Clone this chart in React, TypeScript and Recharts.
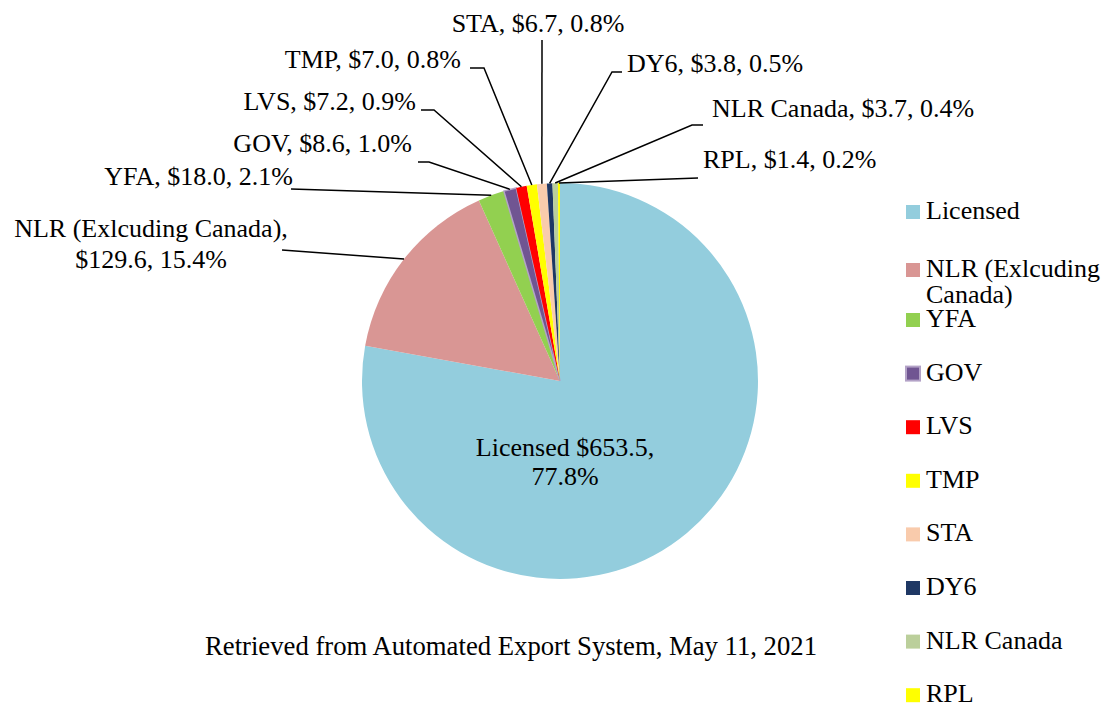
import { PieChart, Pie, Cell } from "recharts";

// chart values
const CATEGORIES = [
  "Licensed",
  "NLR (Exlcuding Canada)",
  "YFA",
  "GOV",
  "LVS",
  "TMP",
  "STA",
  "DY6",
  "NLR Canada",
  "RPL",
];
const VALUES = [653.5, 129.6, 18.0, 8.6, 7.2, 7.0, 6.7, 3.8, 3.7, 1.4];
const COLORS = [
  "#93cddd",
  "#d99694",
  "#92d050",
  "#705592",
  "#ff0000",
  "#ffff00",
  "#f9cbac",
  "#1f3864",
  "#bbcf9b",
  "#ffff00",
];
const FOOTNOTE = "Retrieved from Automated Export System, May 11, 2021";

const FONT = '"Liberation Serif", "Times New Roman", serif';
const FONT_SIZE = 26;
const TOTAL = VALUES.reduce((a, b) => a + b, 0);

const rows = CATEGORIES.map((name, i) => ({ name, value: VALUES[i] }));

// where each data label sits, and the elbow of its leader line
type LabelPos = {
  x: number;
  y: number[];
  anchor: "start" | "middle" | "end";
  split?: "inside" | "two";
  line?: number[][];
};
const LABEL_POS: LabelPos[] = [
  { x: 565, y: [456, 485], anchor: "middle", split: "inside" },
  { x: 151, y: [237, 268], anchor: "middle", split: "two", line: [[282, 250]] },
  { x: 293, y: [185], anchor: "end", line: [[291, 189]] },
  { x: 412, y: [152], anchor: "end", line: [[418, 162], [429, 162]] },
  { x: 416, y: [110], anchor: "end", line: [[421, 110], [434, 110]] },
  { x: 461, y: [68], anchor: "end", line: [[470, 68], [484, 68]] },
  { x: 538, y: [32], anchor: "middle", line: [[542, 40]] },
  { x: 627, y: [72], anchor: "start", line: [[622, 72], [612, 72]] },
  { x: 712, y: [117], anchor: "start", line: [[703, 125], [692, 125]] },
  { x: 703, y: [168], anchor: "start", line: [[698, 178]] },
];

const LEGEND_BASELINES = [219, 277, 327, 380.6, 434.2, 487.8, 541.4, 595, 648.6, 702.2];

const RADIAN = Math.PI / 180;

const renderLabel = (props: any) => {
  const { cx, cy, midAngle, outerRadius, index } = props;
  const pos = LABEL_POS[index];
  const name = CATEGORIES[index];
  const val = "$" + VALUES[index].toFixed(1);
  const pct = ((VALUES[index] / TOTAL) * 100).toFixed(1) + "%";

  let lines: string[];
  if (pos.split === "inside") lines = [`${name} ${val},`, pct];
  else if (pos.split === "two") lines = [`${name},`, `${val}, ${pct}`];
  else lines = [`${name}, ${val}, ${pct}`];

  const ex = cx + outerRadius * Math.cos(-midAngle * RADIAN);
  const ey = cy + outerRadius * Math.sin(-midAngle * RADIAN);

  return (
    <g key={`lbl-${index}`}>
      {pos.line && (
        <polyline
          points={[...pos.line, [ex, ey]].map((p) => p.join(",")).join(" ")}
          fill="none"
          stroke="#000"
          strokeWidth={1.5}
        />
      )}
      <text
        x={pos.x}
        fontFamily={FONT}
        fontSize={FONT_SIZE}
        fill="#000"
        textAnchor={pos.anchor}
      >
        {lines.map((t, j) => (
          <tspan key={j} x={pos.x} y={pos.y[j]}>
            {t}
          </tspan>
        ))}
      </text>
    </g>
  );
};

export default function App() {
  return (
    <div
      style={{
        position: "absolute",
        left: 0,
        top: 0,
        width: 1106,
        height: 707,
        background: "#fff",
      }}
    >
      <PieChart width={1106} height={707} margin={{ top: 0, right: 0, bottom: 0, left: 0 }}>
        <Pie
          data={rows}
          dataKey="value"
          nameKey="name"
          cx={560}
          cy={381}
          outerRadius={198}
          startAngle={90}
          endAngle={-270}
          label={renderLabel}
          labelLine={false}
          isAnimationActive={false}
        >
          {rows.map((r, i) => (
            <Cell
              key={r.name}
              fill={COLORS[i]}
              stroke={r.name === "GOV" ? "#b3a2c7" : "none"}
              strokeWidth={r.name === "GOV" ? 1.5 : 0}
            />
          ))}
        </Pie>
      </PieChart>

      {/* legend + source note */}
      <svg
        width={1106}
        height={707}
        style={{ position: "absolute", left: 0, top: 0, pointerEvents: "none" }}
      >
        {CATEGORIES.map((name, i) => {
          const base = LEGEND_BASELINES[i];
          const words = name === "NLR (Exlcuding Canada)" ? ["NLR (Exlcuding", "Canada)"] : [name];
          return (
            <g key={name}>
              <rect
                x={906}
                y={base - 14}
                width={14}
                height={14}
                fill={COLORS[i]}
                stroke={name === "GOV" ? "#b3a2c7" : "none"}
                strokeWidth={name === "GOV" ? 2 : 0}
              />
              <text fontFamily={FONT} fontSize={FONT_SIZE} fill="#000">
                {words.map((w, j) => (
                  <tspan key={j} x={926} y={base + j * 26}>
                    {w}
                  </tspan>
                ))}
              </text>
            </g>
          );
        })}
        <text
          x={511}
          y={655}
          textAnchor="middle"
          fontFamily={FONT}
          fontSize={26.7}
          fill="#000"
        >
          {FOOTNOTE}
        </text>
      </svg>
    </div>
  );
}
